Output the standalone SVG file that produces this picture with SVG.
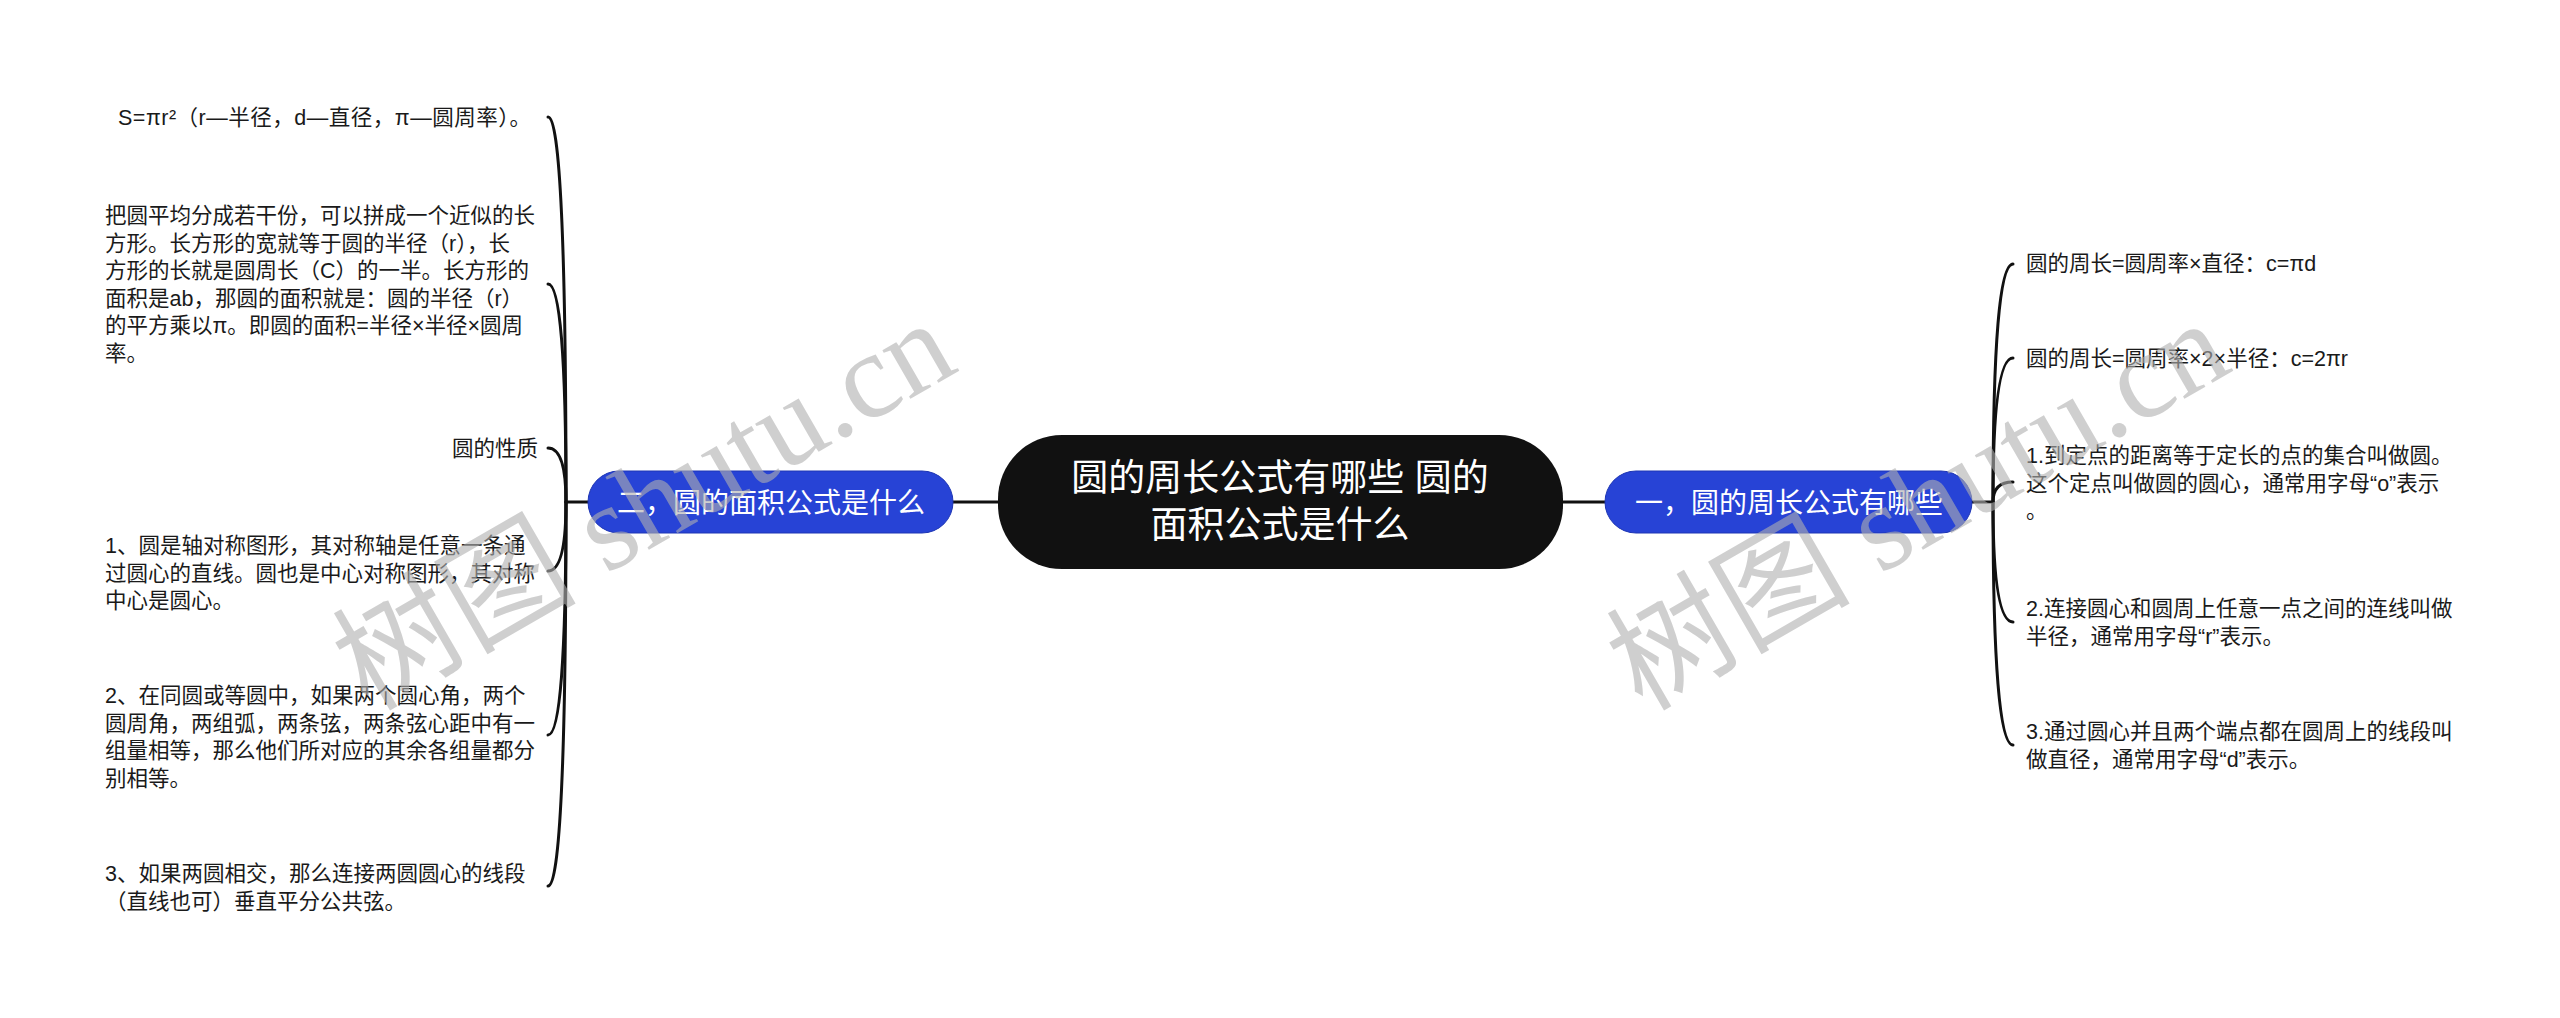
<svg xmlns="http://www.w3.org/2000/svg" width="2560" height="1018" viewBox="0 0 2560 1018">
<style>
.t{font-family:"Liberation Sans","Noto Sans CJK SC",sans-serif;font-size:21.5px;fill:#1a1a1a}
.b{font-family:"Liberation Sans","Noto Sans CJK SC",sans-serif;font-size:28px;fill:#ffffff;text-anchor:middle}
.c{font-family:"Liberation Sans","Noto Sans CJK SC",sans-serif;font-size:37px;fill:#ffffff;text-anchor:middle}
.ln{fill:none;stroke:#111;stroke-width:3;stroke-linecap:round}
.blue{fill:#2743d6;stroke:#1e36b4;stroke-width:1}
.wm{font-family:"Liberation Serif","Noto Sans CJK SC",serif;font-size:122px;fill:#b0b0b0;opacity:0.6}
</style>
<rect width="2560" height="1018" fill="#ffffff"/>
<g id="connectors">
<line class="ln" x1="953" y1="502" x2="998" y2="502"/>
<line class="ln" x1="1563" y1="502" x2="1605" y2="502"/>
<line class="ln" x1="588" y1="502" x2="566" y2="502"/>
<line class="ln" x1="1972" y1="502" x2="1993" y2="502"/>
<path class="ln" d="M566 502 Q566 117 548 117"/>
<path class="ln" d="M566 502 Q566 284 548 284"/>
<path class="ln" d="M566 502 Q566 448 548 448"/>
<path class="ln" d="M566 502 Q566 571 548 571"/>
<path class="ln" d="M566 502 Q566 735 548 735"/>
<path class="ln" d="M566 502 Q566 886 548 886"/>
<path class="ln" d="M1993 502 Q1993 264 2013 264"/>
<path class="ln" d="M1993 502 Q1993 358 2013 358"/>
<path class="ln" d="M1993 502 Q1993 482 2013 482"/>
<path class="ln" d="M1993 502 Q1993 622 2013 622"/>
<path class="ln" d="M1993 502 Q1993 745 2013 745"/>
</g>
<g id="root">
<rect x="998" y="435" width="565" height="134" rx="64" ry="64" fill="#111111"/>
<text class="c" x="1280" y="491">圆的周长公式有哪些 圆的</text>
<text class="c" x="1280" y="538">面积公式是什么</text>
</g>
<g id="branch-left">
<rect class="blue" x="588" y="471" width="365" height="62" rx="31"/>
<text class="b" x="771" y="513">二，圆的面积公式是什么</text>
</g>
<g id="branch-right">
<rect class="blue" x="1605" y="471" width="367" height="62" rx="31"/>
<text class="b" x="1789" y="513">一，圆的周长公式有哪些</text>
</g>
<g id="l1"><text class="t" x="118" y="125" textLength="413" lengthAdjust="spacing">S=πr²（r—半径，d—直径，π—圆周率）。</text></g>
<g id="l2"><text class="t" x="105" y="223">
<tspan x="105">把圆平均分成若干份，可以拼成一个近似的长</tspan>
<tspan x="105" dy="27.6">方形。长方形的宽就等于圆的半径（r），长</tspan>
<tspan x="105" dy="27.6">方形的长就是圆周长（C）的一半。长方形的</tspan>
<tspan x="105" dy="27.6">面积是ab，那圆的面积就是：圆的半径（r）</tspan>
<tspan x="105" dy="27.6">的平方乘以π。即圆的面积=半径×半径×圆周</tspan>
<tspan x="105" dy="27.6">率。</tspan></text></g>
<g id="l3"><text class="t" x="538" y="456" text-anchor="end">圆的性质</text></g>
<g id="l4"><text class="t" x="105" y="553">
<tspan x="105">1、圆是轴对称图形，其对称轴是任意一条通</tspan>
<tspan x="105" dy="27.6">过圆心的直线。圆也是中心对称图形，其对称</tspan>
<tspan x="105" dy="27.6">中心是圆心。</tspan></text></g>
<g id="l5"><text class="t" x="105" y="703">
<tspan x="105">2、在同圆或等圆中，如果两个圆心角，两个</tspan>
<tspan x="105" dy="27.6">圆周角，两组弧，两条弦，两条弦心距中有一</tspan>
<tspan x="105" dy="27.6">组量相等，那么他们所对应的其余各组量都分</tspan>
<tspan x="105" dy="27.6">别相等。</tspan></text></g>
<g id="l6"><text class="t" x="105" y="881">
<tspan x="105">3、如果两圆相交，那么连接两圆圆心的线段</tspan>
<tspan x="105" dy="27.6">（直线也可）垂直平分公共弦。</tspan></text></g>
<g id="r1"><text class="t" x="2026" y="271">圆的周长=圆周率×直径：c=πd</text></g>
<g id="r2"><text class="t" x="2026" y="366">圆的周长=圆周率×2×半径：c=2πr</text></g>
<g id="r3"><text class="t" x="2026" y="463">
<tspan x="2026">1.到定点的距离等于定长的点的集合叫做圆。</tspan>
<tspan x="2026" dy="27.6">这个定点叫做圆的圆心，通常用字母“o”表示</tspan>
<tspan x="2026" dy="27.6">。</tspan></text></g>
<g id="r4"><text class="t" x="2026" y="616">
<tspan x="2026">2.连接圆心和圆周上任意一点之间的连线叫做</tspan>
<tspan x="2026" dy="27.6">半径，通常用字母“r”表示。</tspan></text></g>
<g id="r5"><text class="t" x="2026" y="739">
<tspan x="2026">3.通过圆心并且两个端点都在圆周上的线段叫</tspan>
<tspan x="2026" dy="27.6">做直径，通常用字母“d”表示。</tspan></text></g>
<g id="watermark">
<text class="wm" transform="translate(368 712) rotate(-30)">树图 shutu.cn</text>
<text class="wm" transform="translate(1642 712) rotate(-30)">树图 shutu.cn</text>
</g>
</svg>
